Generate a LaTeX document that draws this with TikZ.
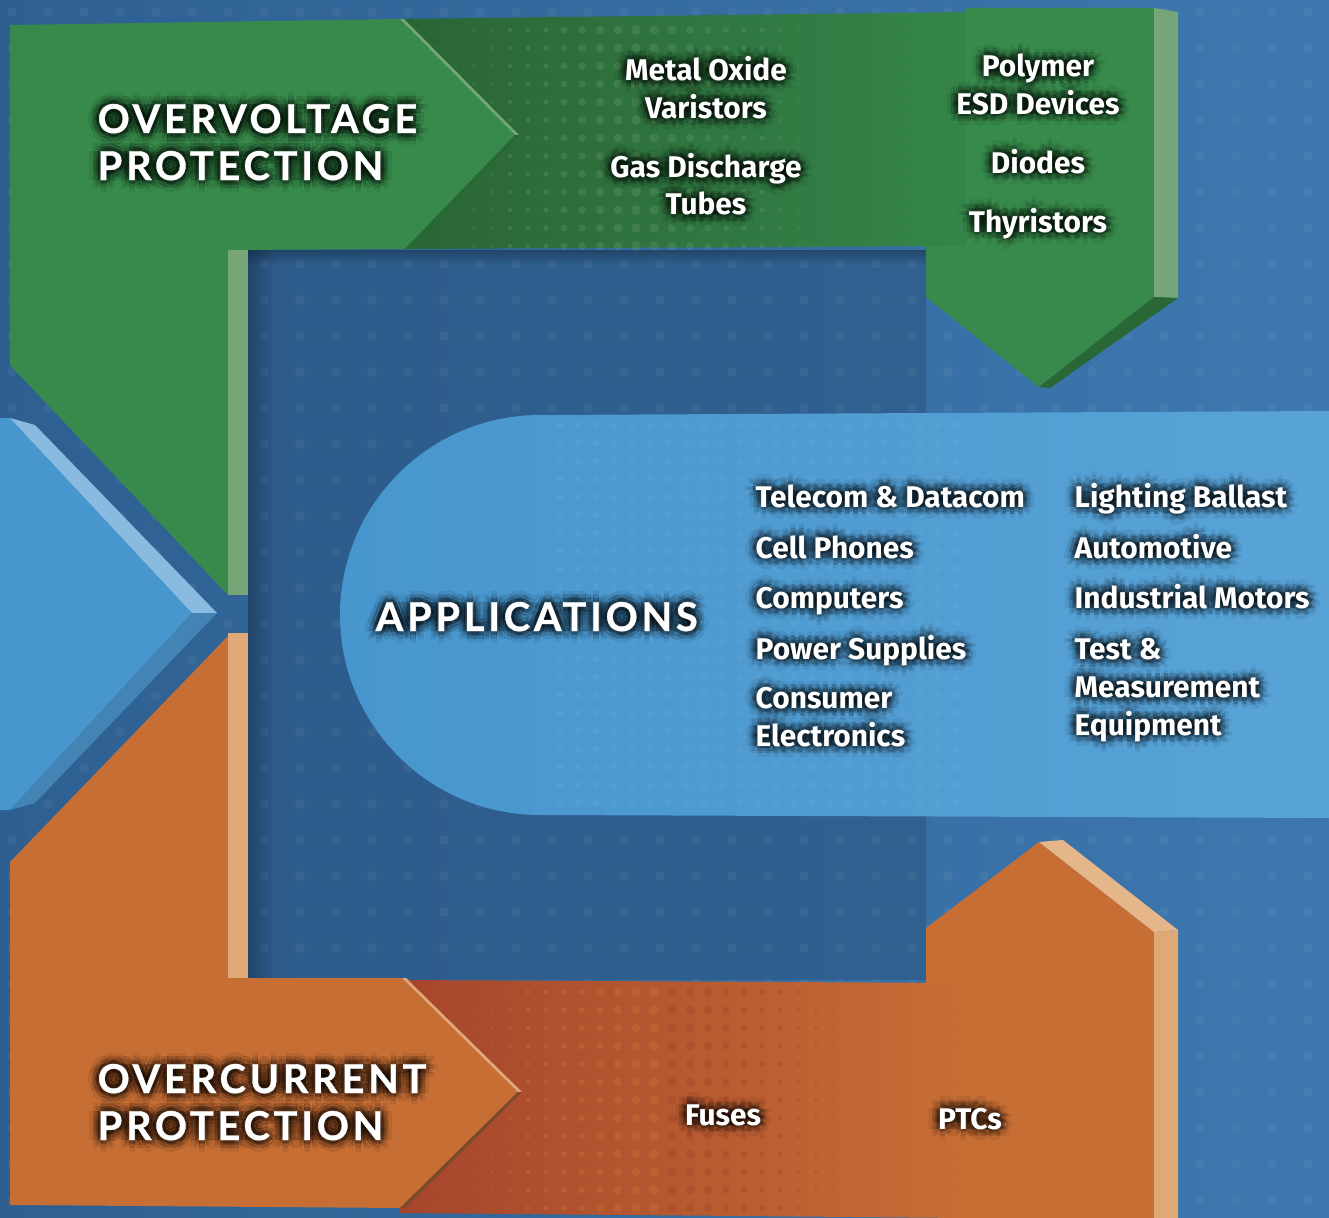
\documentclass[tikz,border=0pt]{standalone}
\usepackage{fontspec}
\usetikzlibrary{fadings}

\newfontfamily\headfont[LetterSpace=9.5, FakeBold=0.8]{Lato}
\newfontfamily\itemfont{Fira Sans}

\definecolor{bgleft}{HTML}{2E5F91}
\definecolor{bgright}{HTML}{3C78AF}
\definecolor{bginner}{HTML}{2C5A88}
\definecolor{ovmain}{HTML}{378A4B}
\definecolor{ovdark}{HTML}{2A6535}
\definecolor{ovmid}{HTML}{34854A}
\definecolor{ovlight}{HTML}{76A677}
\definecolor{ovshade}{HTML}{2A6737}
\definecolor{apmain}{HTML}{4896CE}
\definecolor{apright}{HTML}{58A3D7}
\definecolor{aplight}{HTML}{89BBE1}
\definecolor{apshade}{HTML}{4384B5}
\definecolor{ocmain}{HTML}{C76E35}
\definecolor{ocdark}{HTML}{A6452C}
\definecolor{oclight}{HTML}{E0A877}
\definecolor{ocbevel}{HTML}{E4B68A}
\definecolor{ocshade}{HTML}{7A4A2A}

\tikzset{
  heading/.style={font=\headfont\bfseries\fontsize{11.3}{13}\selectfont,
    text=white, inner sep=0pt, anchor=base west},
  item/.style={font=\itemfont\bfseries\fontsize{8.5}{10.7}\selectfont,
    text=white, inner sep=0pt, align=center, anchor=base},
  appitem/.style={item, align=left, anchor=base west},
}

% white label with a dark halo round it (base = last line)
\newcommand\glowlabel[4]{%
  \foreach \ang in {0,45,...,315}{
    \node[#2, text=black, text opacity=.07] at ([shift={(\ang:3.2pt)}]#3) {#4};
    \node[#2, text=black, text opacity=.12] at ([shift={(\ang:2.1pt)}]#3) {#4};
    \node[#2, text=black, text opacity=.16] at ([shift={(\ang:1.1pt)}]#3) {#4};
  }
  \node[#2] (#1) at (#3) {#4};
}

\begin{document}
\begin{tikzpicture}[x=0.01cm, y=-0.01cm]
\useasboundingbox (0,0) rectangle (1329,1218);

% background and dot grid
\shade[left color=bgleft, right color=bgright] (0,0) rectangle (1329,1218);
\fill[bginner, opacity=.7] (248,250) rectangle (926,980);
\foreach \i in {0,...,36}
  \foreach \j in {0,...,33}
    \fill[white, opacity=.05] (\i*36+12, \j*36+12) circle (5);
\fill[black, opacity=.25, path fading=east] (248,250) rectangle (275,980);
\fill[black, opacity=.25, path fading=south] (248,250) rectangle (926,265);

% applications
\shade[left color=apmain, right color=apright]
  (1329,411) -- (540,415) arc[start angle=-90, end angle=-270, radius=200]
  -- (1329,818) -- cycle;
\foreach \i in {0,...,22}
  \foreach \j in {0,...,21}
    \fill[white, opacity=.04] (560+\i*18, 425+\j*18) circle (3.5);
\fill[apmain] (0,418) -- (10,418) -- (192,613) -- (10,810) -- (0,810) -- cycle;
\fill[aplight] (10,418) -- (35,425) -- (217,613) -- (192,613) -- cycle;
\fill[apshade] (192,613) -- (217,613) -- (35,803) -- (10,810) -- cycle;

% overvoltage
\shade[left color=ovdark, right color=ovmid]
  (400,19) -- (966,12) -- (966,246) -- (405,249) -- cycle;
\foreach \i in {0,...,30}
  \foreach \j in {0,...,12} {
    \pgfmathsetmacro\rad{max(0.6, 5 - abs(\i*18+420-640)/45)}
    \fill[ovlight, opacity=.25] (\i*18+420, \j*18+30) circle (\rad);
  }
\fill[ovmain] (966,8) -- (1154,8) -- (1154,297) -- (1039,387) -- (926,297)
  -- (926,246) -- (966,246) -- cycle;
\fill[ovlight] (1154,8) -- (1178,12) -- (1178,298) -- (1154,297) -- cycle;
\fill[ovshade] (1154,297) -- (1178,298) -- (1050,388) -- (1039,387) -- cycle;
\fill[ovmain] (10,25) -- (400,19) -- (515,135) -- (405,249) -- (228,250)
  -- (228,595) -- (10,365) -- cycle;
\fill[ovlight] (400,19) -- (404,19) -- (519,135) -- (515,135) -- cycle;
\fill[ovshade] (515,135) -- (519,135) -- (410,249) -- (405,249) -- cycle;
\fill[ovlight] (228,250) rectangle (248,595);

% overcurrent
\shade[left color=ocdark, right color=ocmain]
  (400,980) -- (966,983) -- (966,1218) -- (400,1213) -- cycle;
\foreach \i in {0,...,30}
  \foreach \j in {0,...,12} {
    \pgfmathsetmacro\rad{max(0.6, 5 - abs(\i*18+420-660)/45)}
    \ifnum\i<14
      \fill[ocmain, opacity=.45] (\i*18+420, \j*18+992) circle (\rad);
    \else
      \fill[ocdark, opacity=.45] (\i*18+420, \j*18+992) circle (\rad);
    \fi
  }
\fill[ocmain] (926,983) -- (926,928) -- (1039,842) -- (1154,932) -- (1154,1218)
  -- (966,1218) -- (966,983) -- cycle;
\fill[oclight] (1154,932) -- (1178,930) -- (1178,1218) -- (1154,1218) -- cycle;
\fill[ocbevel] (1039,842) -- (1063,840) -- (1178,930) -- (1154,932) -- cycle;
\fill[ocmain] (228,636) -- (228,978) -- (402,978) -- (518,1092) -- (400,1208)
  -- (10,1205) -- (10,862) -- cycle;
\fill[oclight] (402,978) -- (406,978) -- (522,1092) -- (518,1092) -- cycle;
\fill[ocshade] (518,1092) -- (522,1092) -- (405,1208) -- (400,1208) -- cycle;
\fill[oclight] (228,633) rectangle (248,978);

% headings
\glowlabel{ovTitleA}{heading}{97,133}{OVERVOLTAGE}
\glowlabel{ovTitleB}{heading}{97,180}{PROTECTION}
\glowlabel{apTitle}{heading}{375,631}{APPLICATIONS}
\glowlabel{ocTitleA}{heading}{97,1093}{OVERCURRENT}
\glowlabel{ocTitleB}{heading}{97,1140}{PROTECTION}

% overvoltage devices
\glowlabel{mov}{item}{706,118}{Metal Oxide\\Varistors}
\glowlabel{gdt}{item}{706,215}{Gas Discharge\\Tubes}
\glowlabel{esd}{item}{1038,114}{Polymer\\ESD Devices}
\glowlabel{diodes}{item}{1038,173}{Diodes}
\glowlabel{thyristors}{item}{1038,232}{Thyristors}

% applications
\glowlabel{telecom}{appitem}{755,507}{Telecom \& Datacom}
\glowlabel{cell}{appitem}{755,558}{Cell Phones}
\glowlabel{computers}{appitem}{755,608}{Computers}
\glowlabel{power}{appitem}{755,659}{Power Supplies}
\glowlabel{consumer}{appitem}{755,746}{Consumer\\Electronics}
\glowlabel{lighting}{appitem}{1074,507}{Lighting Ballast}
\glowlabel{auto}{appitem}{1074,558}{Automotive}
\glowlabel{motors}{appitem}{1074,608}{Industrial Motors}
\glowlabel{test}{appitem}{1074,735}{Test \&\\Measurement\\Equipment}

% overcurrent devices
\glowlabel{fuses}{item}{723,1125}{Fuses}
\glowlabel{ptcs}{item}{970,1129}{PTCs}
\end{tikzpicture}
\end{document}
